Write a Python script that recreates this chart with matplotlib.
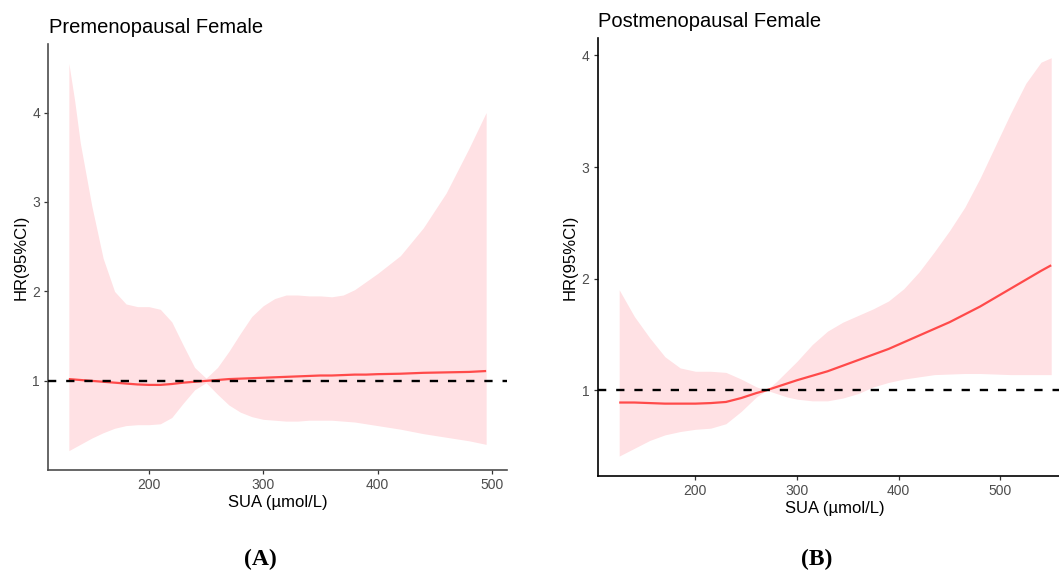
import numpy as np
import matplotlib
matplotlib.use("Agg")
import matplotlib.pyplot as plt

# ---------------- data ----------------
# Panel A: Premenopausal Female
sua_a = [130, 135, 140, 150, 160, 170, 180, 190, 200, 210, 220, 230, 240, 250, 260, 270,
         280, 290, 300, 310, 320, 330, 340, 350, 360, 370, 380, 390, 400, 420, 440,
         460, 480, 495]
hr_a = [1.02, 1.015, 1.01, 1.00, 0.99, 0.98, 0.97, 0.96, 0.955, 0.955, 0.965, 0.98, 0.99, 1.00,
        1.01, 1.02, 1.025, 1.03, 1.035, 1.04, 1.045, 1.05, 1.055, 1.06, 1.06, 1.065, 1.07,
        1.07, 1.075, 1.08, 1.09, 1.095, 1.10, 1.11]
upper_a = [4.55, 4.14, 3.66, 2.96, 2.37, 2.00, 1.86, 1.83, 1.83, 1.80, 1.66, 1.40, 1.15, 1.03,
           1.15, 1.33, 1.53, 1.72, 1.84, 1.92, 1.96, 1.96, 1.95, 1.95, 1.94, 1.96, 2.02,
           2.11, 2.20, 2.40, 2.71, 3.10, 3.60, 4.00]
lower_a = [0.22, 0.255, 0.29, 0.36, 0.42, 0.47, 0.50, 0.51, 0.51, 0.52, 0.59, 0.75, 0.90, 0.98,
           0.85, 0.73, 0.65, 0.60, 0.57, 0.56, 0.55, 0.55, 0.56, 0.56, 0.56, 0.55, 0.54,
           0.52, 0.50, 0.46, 0.41, 0.37, 0.33, 0.29]

# Panel B: Postmenopausal Female
sua_b = [125, 140, 155, 170, 185, 200, 215, 230, 245, 260, 270, 280, 290, 300, 315, 330,
         345, 360, 375, 390, 405, 420, 435, 450, 465, 480, 495, 510, 525, 540, 550]
hr_b = [0.89, 0.89, 0.885, 0.88, 0.88, 0.88, 0.885, 0.895, 0.93, 0.975, 1.00, 1.03, 1.06,
        1.09, 1.13, 1.17, 1.22, 1.27, 1.32, 1.37, 1.43, 1.49, 1.55, 1.61, 1.68, 1.75,
        1.83, 1.91, 1.99, 2.07, 2.12]
upper_b = [1.90, 1.66, 1.47, 1.30, 1.20, 1.17, 1.17, 1.16, 1.10, 1.03, 1.00, 1.08, 1.17,
           1.26, 1.41, 1.53, 1.61, 1.67, 1.73, 1.80, 1.91, 2.06, 2.24, 2.43, 2.64, 2.90,
           3.19, 3.48, 3.75, 3.94, 3.98]
lower_b = [0.41, 0.48, 0.55, 0.60, 0.63, 0.65, 0.66, 0.70, 0.81, 0.94, 1.00, 0.97, 0.94,
           0.92, 0.905, 0.905, 0.93, 0.97, 1.03, 1.07, 1.10, 1.12, 1.14, 1.145, 1.15, 1.15,
           1.145, 1.14, 1.14, 1.14, 1.14]

titles = ["Premenopausal Female", "Postmenopausal Female"]
panel_tags = ["A", "B"]
x_ticks = [200, 300, 400, 500]
y_ticks = [1, 2, 3, 4]
ref_hr = 1
x_label = "SUA (\u00b5mol/L)"
y_label = "HR(95%CI)"

# ---------------- figure ----------------
W, H = 1059, 571
fig = plt.figure(figsize=(W / 100, H / 100), dpi=100)
plt.rcParams['font.family'] = ['Liberation Sans', 'DejaVu Sans']

def px_box(left, top, right, bottom):
    return [left / W, (H - bottom) / H, (right - left) / W, (bottom - top) / H]

ax_a = fig.add_axes(px_box(48, 44, 507, 470))
ax_b = fig.add_axes(px_box(597.6, 37.8, 1072.8, 476))

ribbon_col = "#FFE1E4"
line_col = "#FF4A4A"

def draw(ax, x, hr, lo, hi, title, spine_col):
    x = np.asarray(x, float)
    lo = np.asarray(lo, float)
    hi = np.asarray(hi, float)
    ax.fill_between(x, lo, hi, color=ribbon_col, lw=0, zorder=1)
    ax.plot(x, hr, color=line_col, lw=1.6, zorder=3, solid_capstyle='butt')
    ax.axhline(ref_hr, color="black", lw=1.7, ls=(0, (3.5, 4.2)), zorder=4)
    # ggplot-like 5% expansion
    xr = x.max() - x.min()
    ax.set_xlim(x.min() - 0.05 * xr, x.max() + 0.05 * xr)
    ymin, ymax = lo.min(), hi.max()
    yr = ymax - ymin
    ax.set_ylim(ymin - 0.05 * yr, ymax + 0.05 * yr)
    ax.set_xticks(x_ticks)
    ax.set_yticks(y_ticks)
    ax.set_xticklabels([str(t) for t in x_ticks])
    ax.set_yticklabels([str(t) for t in y_ticks])
    for s in ["top", "right"]:
        ax.spines[s].set_visible(False)
    for s in ["left", "bottom"]:
        ax.spines[s].set_color(spine_col)
        ax.spines[s].set_linewidth(1.2)
    ax.tick_params(axis="both", length=2.6, width=0.9, color="#333333",
                   labelcolor="#4D4D4D", labelsize=10, pad=3.2)
    ax.annotate(title, xy=(0, 1), xycoords="axes fraction", xytext=(0.5, 8),
                textcoords="offset points", ha="left", va="baseline",
                fontsize=14.5, color="black")
    ax.annotate(x_label, xy=(0.5, 0), xycoords="axes fraction", xytext=(0, -27),
                textcoords="offset points", ha="center", va="baseline",
                fontsize=12, color="black")
    ax.annotate(y_label, xy=(0, 0.5), xycoords="axes fraction", xytext=(-19.5, 0),
                textcoords="offset points", ha="center", va="center",
                rotation=90, fontsize=12, color="black")

draw(ax_a, sua_a, hr_a, lower_a, upper_a, titles[0], "#4D4D4D")
draw(ax_b, sua_b, hr_b, lower_b, upper_b, titles[1], "black")

tag_pos = [(260.6, 559), (817, 559)]
for tag, (tx, ty) in zip(panel_tags, tag_pos):
    fig.text(tx / W, (H - ty) / H, "(" + tag + ")", ha="center", va="center",
             fontsize=17, fontweight="bold", family=["Liberation Serif", "DejaVu Serif"])

fig.savefig("out.png", dpi=100)
